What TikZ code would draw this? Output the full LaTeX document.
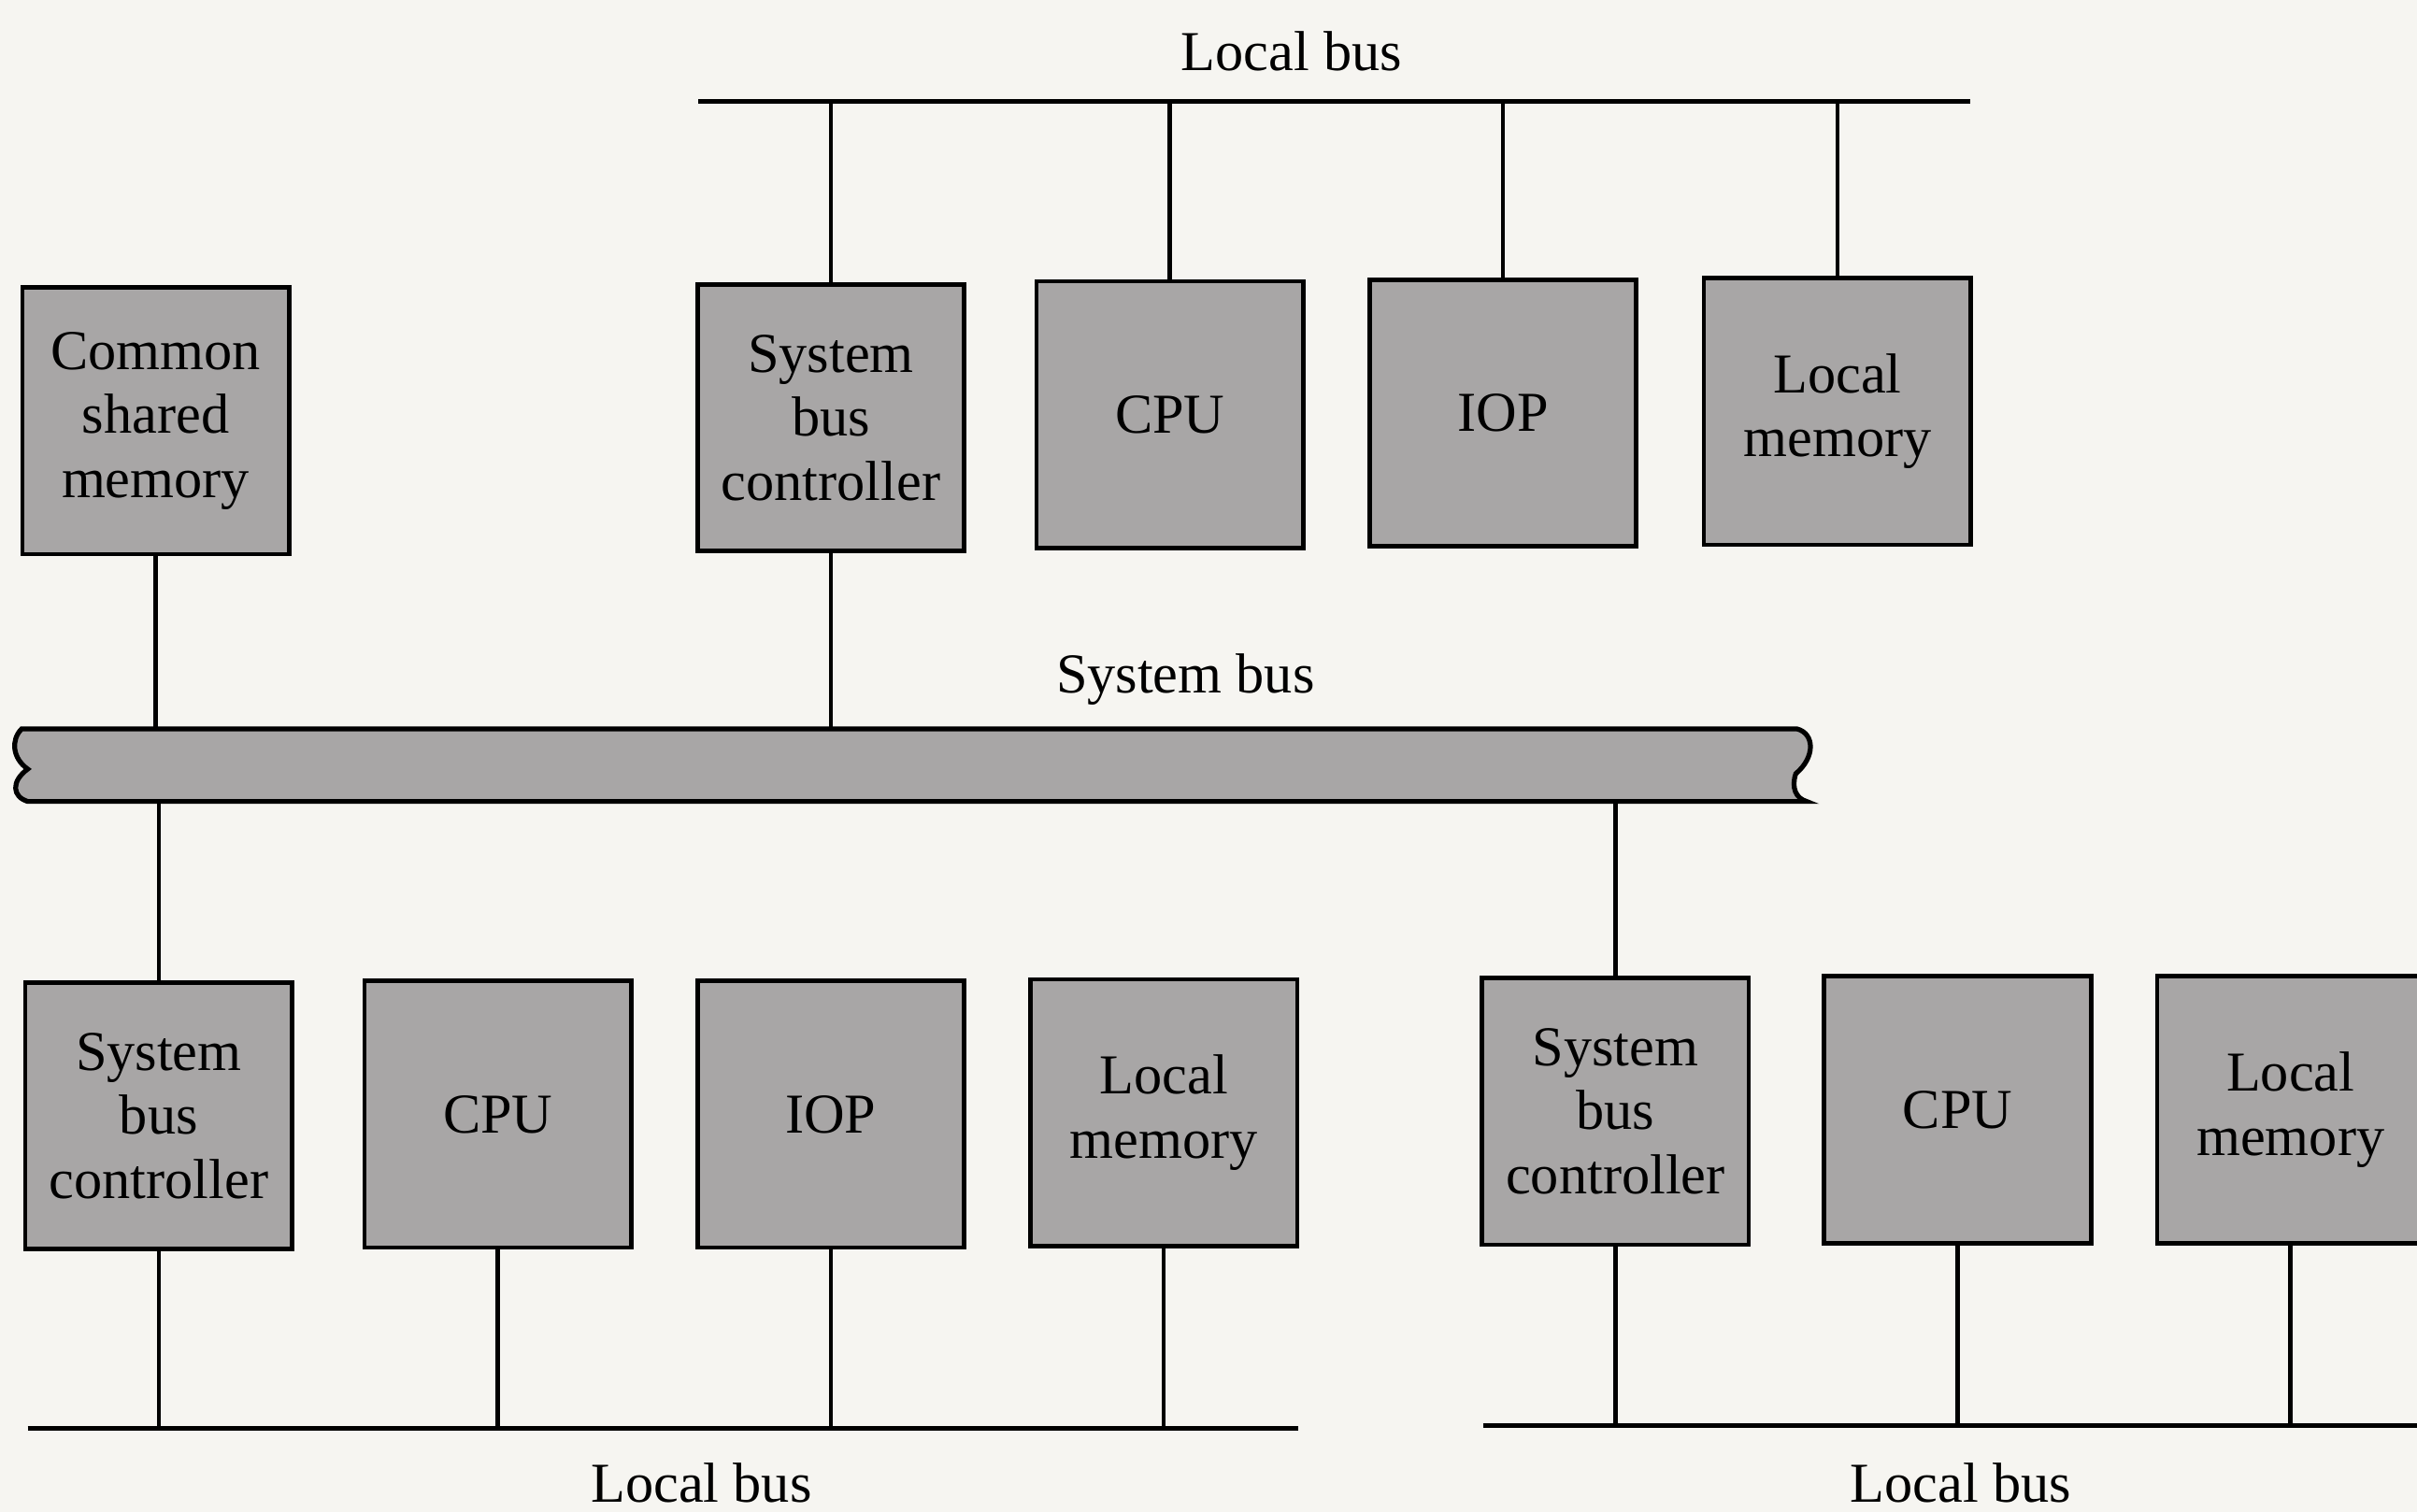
\documentclass[tikz,border=0pt]{standalone}
\usepackage{fontspec}
\setmainfont{Liberation Serif}
\definecolor{paper}{RGB}{246,245,241}
\definecolor{unitgray}{RGB}{168,166,166}
\begin{document}
\begin{tikzpicture}[x=0.01cm,y=-0.01cm,line width=0.8pt,
  every node/.style={font=\fontsize{10.4}{11.8}\selectfont, align=center, inner sep=0pt},
  unit/.style={draw, fill=unitgray, minimum width=1.73cm, minimum height=1.73cm},
  bus/.style={line width=0.9pt}]
\fill[paper] (0,0) rectangle (1568,981);
\useasboundingbox (0,0) rectangle (1568,981);
\node[unit] (csm) at (101,273) {Common\\shared\\memory};
\node[unit] (tsbc) at (539,271) {System\\bus\\controller};
\node[unit] (tcpu) at (759,269) {CPU};
\node[unit] (tiop) at (975,268) {IOP};
\node[unit] (tlm) at (1192,267) {Local\\memory};
\node[unit] (lsbc) at (103,724) {System\\bus\\controller};
\node[unit] (lcpu) at (323,723) {CPU};
\node[unit] (liop) at (539,723) {IOP};
\node[unit] (llm) at (755,722) {Local\\memory};
\node[unit] (rsbc) at (1048,721) {System\\bus\\controller};
\node[unit] (rcpu) at (1270,720) {CPU};
\node[unit] (rlm) at (1486,720) {Local\\memory};
\node (tbuslabel) at (838,33) {Local bus};
\node (sbuslabel) at (769,441) {System bus};
\node (lbuslabel) at (455,962) {Local bus};
\node (rbuslabel) at (1272,962) {Local bus};
\coordinate (tbus-w) at (453,66);
\coordinate (tbus-e) at (1278,66);
\coordinate (lbus-w) at (18,927);
\coordinate (lbus-e) at (842,927);
\coordinate (rbus-w) at (962,925);
\coordinate (rbus-e) at (1580,925);
\coordinate (sbus-n) at (0,473);
\coordinate (sbus-s) at (0,520);
\draw[bus] (tbus-w) -- (tbus-e);
\draw[bus] (lbus-w) -- (lbus-e);
\draw[bus] (rbus-w) -- (rbus-e);
\draw[bus, fill=unitgray] (14,473) -- (1166,473) .. controls (1177,476) and (1178,491) .. (1165,502) .. controls (1162,511) and (1165,518) .. (1172,520) -- (18,520) .. controls (8,517) and (7,507) .. (18,499) .. controls (8,492) and (7,480) .. (14,473) -- cycle;
\foreach \n in {tsbc,tcpu,tiop,tlm}
  \draw (\n) -- (\n |- tbus-w);
\foreach \n in {lsbc,lcpu,liop,llm}
  \draw (\n) -- (\n |- lbus-w);
\foreach \n in {rsbc,rcpu,rlm}
  \draw (\n) -- (\n |- rbus-w);
\draw (csm) -- (csm |- sbus-n);
\draw (tsbc) -- (tsbc |- sbus-n);
\draw (lsbc) -- (lsbc |- sbus-s);
\draw (rsbc) -- (rsbc |- sbus-s);
\end{tikzpicture}
\end{document}
